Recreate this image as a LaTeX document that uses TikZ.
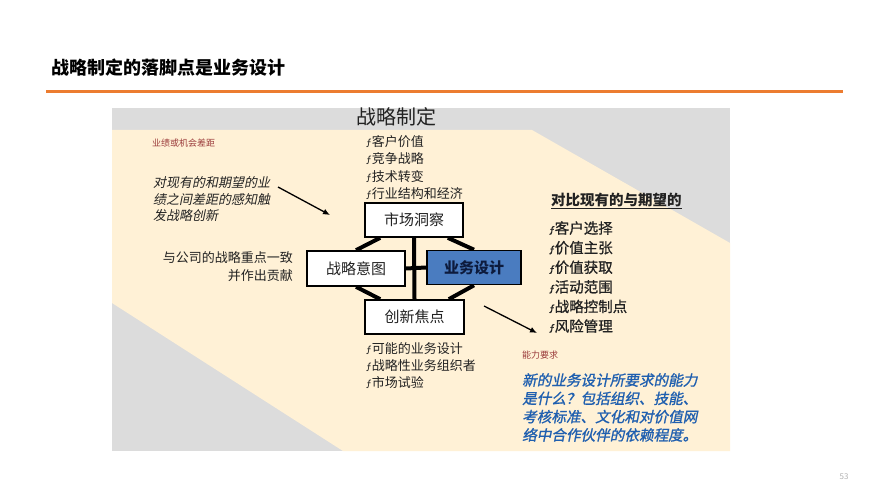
\documentclass[tikz,border=0pt]{standalone}
\usepackage{fontspec}
\setmainfont{Noto Sans CJK SC}
\newfontfamily\cjkit[FakeSlant=0.2]{Noto Sans CJK SC}
\newfontfamily\cjkbit[FakeSlant=0.2,FakeBold=1.2]{Noto Sans CJK SC}
\newfontfamily\cjkmed[FakeBold=0.8]{Noto Sans CJK SC}
\usetikzlibrary{arrows.meta,backgrounds,calc}
\definecolor{panelgrey}{HTML}{DCDCDC}
\definecolor{cream}{HTML}{FFF1D6}
\definecolor{rule}{HTML}{EC7C30}
\definecolor{bizblue}{HTML}{4A7CC0}
\definecolor{navy}{HTML}{0D1B3D}
\definecolor{redsmall}{HTML}{9B3B3B}
\definecolor{itblue}{HTML}{1F5FAF}
\definecolor{txt}{HTML}{222222}
\newcommand{\bul}{{\fontsize{10}{10}\selectfont\itshape ƒ}}
\begin{document}
\begin{tikzpicture}[x=1pt,y=-1pt,
  box/.style={draw=black,line width=1.6pt,fill=white,minimum width=98pt,minimum height=34pt,inner sep=0pt,font=\fontsize{15}{18}\selectfont,text=txt},
  link/.style={line width=4pt,black},
  pointer/.style={line width=1.3pt,black,-{Latex[length=7pt,width=6pt]}},
  list/.style={anchor=west,align=left,inner sep=0pt,text=txt},
  small/.style={anchor=west,inner sep=0pt,text=redsmall,font=\fontsize{9}{10}\selectfont}]
\useasboundingbox (0,0) rectangle (889,500);
\begin{scope}[on background layer]
\fill[white] (0,0) rectangle (889,500);
% panel
\fill[panelgrey] (112,108) rectangle (730,451);
\fill[cream] (112,130) -- (532,130) -- (730,243) -- (730,451) -- (343,451) -- (112,303) -- cycle;
\end{scope}
% header
\node[anchor=west,inner sep=0pt,font=\fontsize{18}{20}\selectfont\bfseries] (title) at (51,68) {战略制定的落脚点是业务设计};
\coordinate (ruleL) at (46,92);
\coordinate (ruleR) at (843,92);
\draw[rule,line width=3pt] (ruleL) -- (ruleR);
\node[inner sep=0pt,font=\fontsize{20}{22}\selectfont,text=txt] (zhiding) at (396,117) {战略制定};
% boxes
\node[box] (ms) at (414,220) {市场洞察};
\node[box,minimum height=35pt] (zy) at (356,268.5) {战略意图};
\node[box,fill=bizblue,minimum width=94pt,text=navy,font=\fontsize{15}{18}\selectfont\bfseries] (yw) at (474,267.5) {业务设计};
\node[box,minimum width=99pt] (cx) at (414.5,317) {创新焦点};
\begin{scope}[on background layer]
\draw[link] (ms.south) -- (cx.north);
\draw[link] (zy.east) -- (yw.west);
\draw[link] ($(ms.south west)+(16,0)$) -- (zy.north);
\draw[link] ($(ms.south east)+(-16,0)$) -- (yw.north);
\draw[link] (zy.south) -- ($(cx.north west)+(16,0)$);
\draw[link] (yw.south) -- ($(cx.north east)+(-16,0)$);
\end{scope}
% lists around boxes
\node[list,font=\fontsize{13}{17.2}\selectfont] (toplist) at (366,167.5) {\bul 客户价值\\\bul 竞争战略\\\bul 技术转变\\\bul 行业结构和经济};
\node[list,font=\fontsize{13}{17}\selectfont] (botlist) at (366,366) {\bul 可能的业务设计\\\bul 战略性业务组织者\\\bul 市场试验};
% left side
\node[small] (gap) at (152,143) {业绩或机会差距};
\node[list,font=\fontsize{13}{16.5}\selectfont\cjkit,text=txt] (gaptext) at (153,199.5) {对现有的和期望的业\\绩之间差距的感知触\\发战略创新};
\coordinate (a1s) at (278,187);
\coordinate (a1e) at (330,215);
\draw[pointer] (a1s) -- (a1e);
\node[anchor=east,align=right,inner sep=0pt,text=txt,font=\fontsize{13}{18}\selectfont] (align) at (293,267) {与公司的战略重点一致\\并作出贡献};
% right side
\node[list,font=\fontsize{14.5}{17}\selectfont\bfseries] (cmp) at (551,201) {\underline{对比现有的与期望的}};
\node[list,font=\fontsize{14.5}{19.6}\selectfont\cjkmed] (rightlist) at (549,277) {\bul 客户选择\\\bul 价值主张\\\bul 价值获取\\\bul 活动范围\\\bul 战略控制点\\\bul 风险管理};
\coordinate (a2s) at (484,306);
\coordinate (a2e) at (537,333);
\draw[pointer] (a2s) -- (a2e);
\node[small] (cap) at (522,355) {能力要求};
\node[list,text=itblue,font=\fontsize{14.6}{18.3}\selectfont\cjkbit] (captext) at (522,407.5) {新的业务设计所要求的能力\\是什么？包括组织、技能、\\考核标准、文化和对价值网\\络中合作伙伴的依赖程度。};
% page number
\node[inner sep=0pt,text=gray!60,font=\fontsize{8}{9}\selectfont] (page) at (844,477) {53};
\end{tikzpicture}
\end{document}
